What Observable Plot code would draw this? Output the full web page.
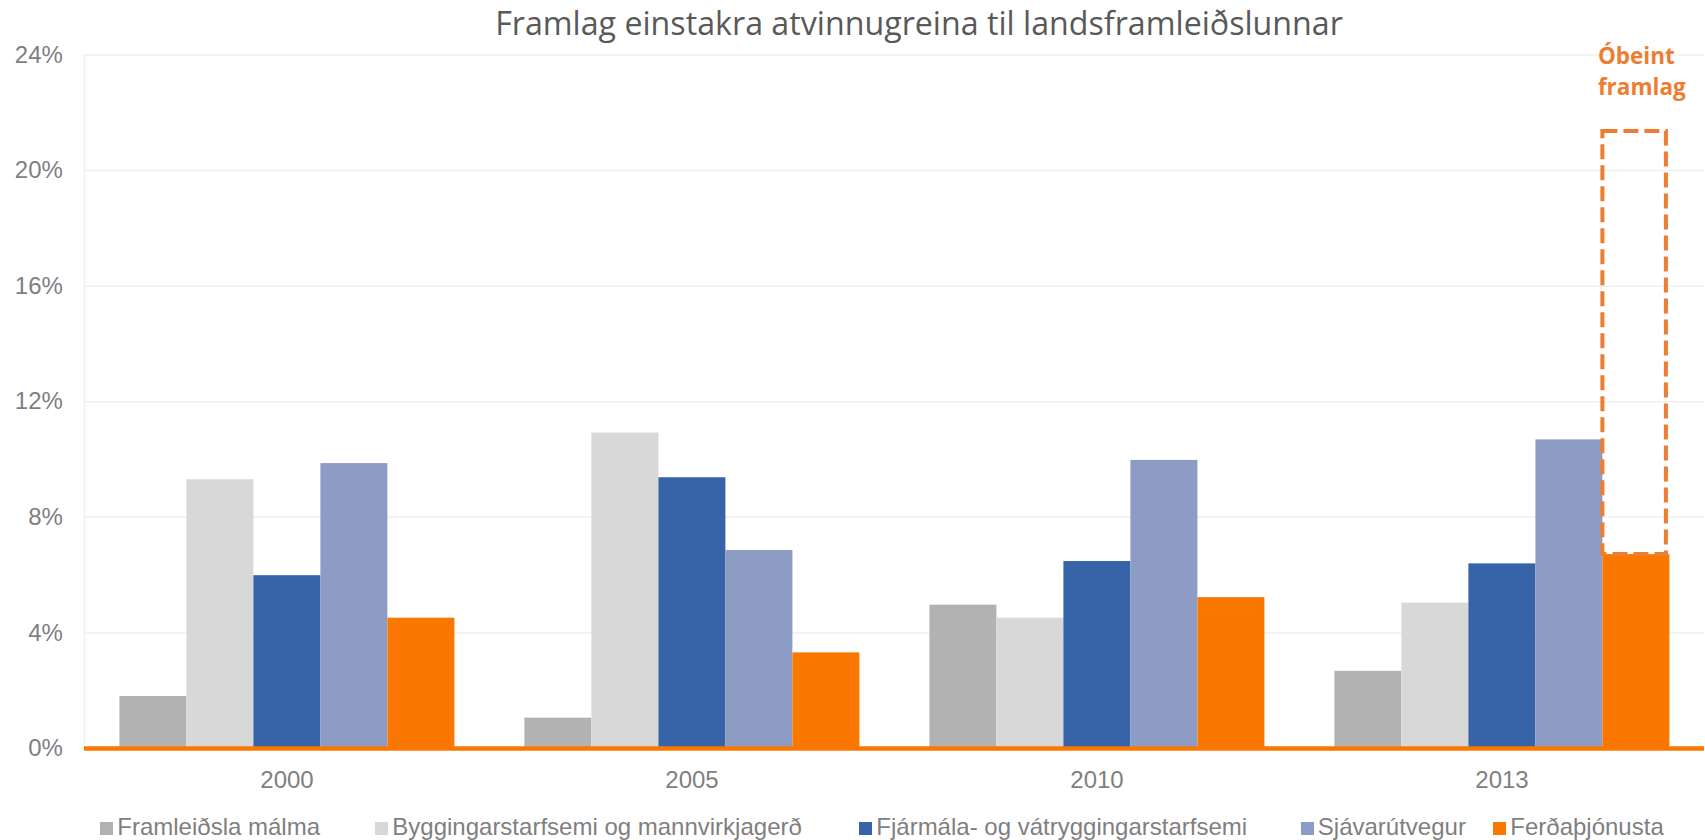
<!DOCTYPE html>
<html><head><meta charset="utf-8">
<script src="https://cdn.jsdelivr.net/npm/d3@7"></script>
<script src="https://cdn.jsdelivr.net/npm/@observablehq/plot@0.6"></script>
<style>
body{margin:0;background:#fff;}
#wrap{position:relative;width:1705px;height:840px;overflow:hidden;background:#fff;}
#title{position:relative;height:40px;}
#title span{position:absolute;left:919px;top:1px;transform:translateX(-50%);font-family:"Open Sans",sans-serif;font-size:32.2px;line-height:normal;color:#595959;white-space:nowrap;}
#legend{position:relative;height:40px;font-family:"Liberation Sans",Arial,sans-serif;font-size:24px;line-height:24px;color:#7f7f7f;}
.sw{position:absolute;top:22px;width:13.3px;height:13.3px;}
.lt{position:absolute;top:15px;white-space:nowrap;}
</style></head><body>
<div id="wrap"><div id="title"><span></span></div><div id="chart"></div><div id="legend"></div></div>
<script>
// ---- data ----
const titleText = "Framlag einstakra atvinnugreina til landsframleiðslunnar";
const years = ["2000", "2005", "2010", "2013"];
const series = ["Framleiðsla málma", "Byggingarstarfsemi og mannvirkjagerð", "Fjármála- og vátryggingarstarfsemi", "Sjávarútvegur", "Ferðaþjónusta"];
const framleidslaMalma = [1.80, 1.05, 4.96, 2.67];
const byggingarstarfsemi = [9.30, 10.92, 4.51, 5.03];
const fjarmala = [5.98, 9.37, 6.47, 6.39];
const sjavarutvegur = [9.86, 6.85, 9.97, 10.68];
const ferdathjonusta = [4.51, 3.31, 5.22, 6.71];
const colors = ["#B2B2B2", "#D8D8D8", "#3763A9", "#8C9CC4", "#FA7800"];
const yTicks = [0, 4, 8, 12, 16, 20, 24];
const annotationYear = "2013";
const annotationSeries = "Ferðaþjónusta";
const obeintTotal = 21.35;
const annotationLabel = "Óbeint\nframlag";

// ---- layout (not data) ----
const legendLeft = [100, 375, 859, 1300.5, 1493];

const valuesBySeries = [framleidslaMalma, byggingarstarfsemi, fjarmala, sjavarutvegur, ferdathjonusta];
const rows = years.flatMap((year, i) => series.map((s, j) => ({year, series: s, value: valuesBySeries[j][i]})));
const box = [{
  year: annotationYear, series: annotationSeries,
  y1: ferdathjonusta[years.indexOf(annotationYear)], y2: obeintTotal, label: annotationLabel
}];

document.querySelector("#title span").textContent = titleText;

const chart = Plot.plot({
  width: 1705, height: 760,
  marginLeft: 82.6, marginRight: 0, marginTop: 14.5, marginBottom: 52,
  style: {fontFamily: '"Liberation Sans", Arial, sans-serif', fontSize: "24px", display: "block", overflow: "visible", background: "#fff"},
  fx: {domain: years, padding: 0, label: null},
  x: {domain: series, paddingInner: 0, paddingOuter: 0.5, axis: null},
  y: {domain: [0, 24]},
  color: {domain: series, range: colors},
  marks: [
    Plot.ruleY(yTicks, {stroke: "#F0F0F0", strokeWidth: 1.5}),
    Plot.frame({anchor: "left", stroke: "#F0F0F0", strokeWidth: 1.5, facetAnchor: "left"}),
    Plot.barY(rows, {fx: "year", x: "series", y: "value", fill: "series"}),
    Plot.ruleY([0], {stroke: "#FA7800", strokeWidth: 4.7}),
    Plot.barY(box, {fx: "year", x: "series", y1: "y1", y2: "y2", fill: "none", stroke: "#ED7D31", strokeWidth: 4, strokeDasharray: "15,6", insetRight: 3.5}),
    Plot.text(box, {fx: "year", x: "series", y: "y2", text: "label", textAnchor: "start", lineAnchor: "bottom",
      dx: -38.5, dy: -36.5, fontFamily: "Open Sans", fontWeight: "bold", fontSize: 22.5, lineHeight: 1.38, fill: "#ED7D31"}),
    Plot.axisY(yTicks, {tickSize: 0, tickPadding: 21.6, tickFormat: d => d + "%", color: "#7f7f7f", fontSize: 24, label: null}),
    Plot.axisFx({anchor: "bottom", tickSize: 0, tickPadding: 22, color: "#7f7f7f", fontSize: 24, label: null})
  ]
});
document.getElementById("chart").appendChild(chart);

const legend = document.getElementById("legend");
series.forEach((s, i) => {
  const sw = document.createElement("div");
  sw.className = "sw";
  sw.style.left = legendLeft[i] + "px";
  sw.style.background = colors[i];
  legend.appendChild(sw);
  const t = document.createElement("div");
  t.className = "lt";
  t.style.left = (legendLeft[i] + 17.3) + "px";
  t.textContent = s;
  legend.appendChild(t);
});
</script>
</body></html>
